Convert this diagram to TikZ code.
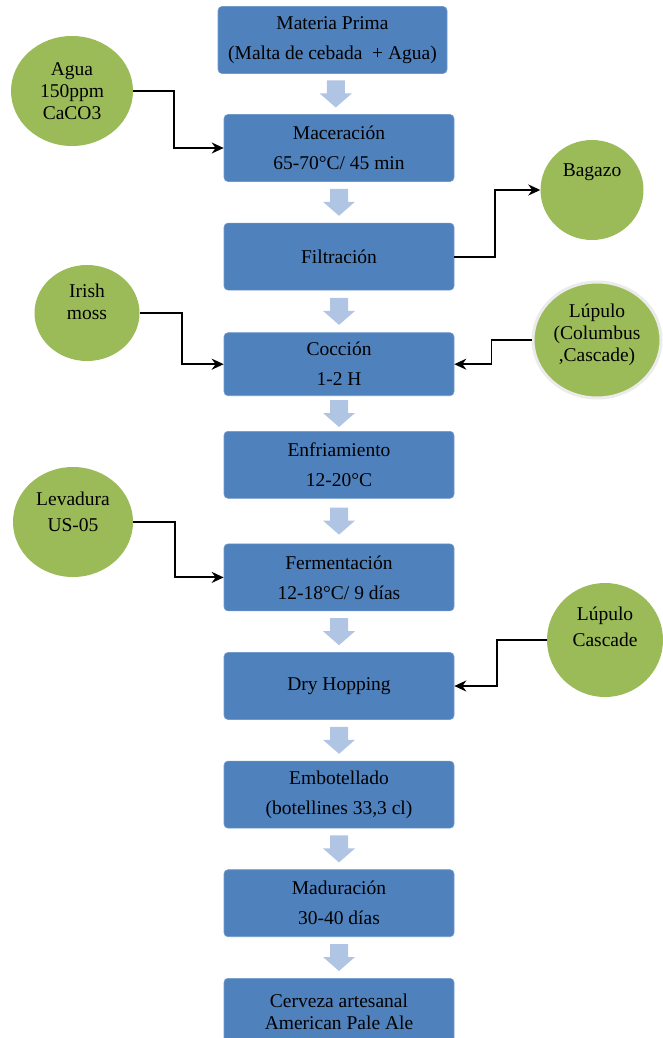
\documentclass[tikz,border=0pt]{standalone}
\usepackage{fontspec}
\setmainfont{Liberation Serif}
\usetikzlibrary{shapes.geometric, arrows.meta, positioning, calc}
\definecolor{boxblue}{RGB}{79,129,189}
\definecolor{leafgreen}{RGB}{155,187,89}
\definecolor{paleblue}{RGB}{176,196,228}

\begin{document}
\begin{tikzpicture}[
    x=1pt, y=-1pt,
    node distance=41pt,
    paso/.style={rectangle, rounded corners=4pt, fill=boxblue,
                 draw=boxblue!80!white, line width=0.6pt,
                 minimum width=230pt, minimum height=67pt, align=center,
                 inner sep=2pt, font=\fontsize{19.5}{30}\selectfont},
    insumo/.style={ellipse, fill=leafgreen, inner sep=0pt, align=center,
                   font=\fontsize{19.5}{22}\selectfont},
    arr/.style={-{Stealth[length=12pt, width=11pt]}, line width=1.9pt},
    bajada/.style={fill=paleblue}
]
\useasboundingbox (0,0) rectangle (663,1038);

%% ── Main column: process steps ──
\node[paso, minimum width=229pt] (MP) at (332.5,40) {Materia Prima\\(Malta de cebada \ + Agua)};
\node[paso] (MAC) at (339,148) {Maceración\\65-70°C/ 45 min};
\node[paso, below=of MAC] (FIL) {Filtración};
\node[paso, below=42pt of FIL, minimum height=63pt] (COC) {Cocción\\1-2 H};
\node[paso, below=35pt of COC] (ENF) {Enfriamiento\\12-20°C};
\node[paso, below=45pt of ENF] (FER) {Fermentación\\12-18°C/ 9 días};
\node[paso, below=of FER] (DRY) {Dry Hopping};
\node[paso, below=of DRY] (EMB) {Embotellado\\(botellines 33,3 cl)};
\node[paso, below=of EMB] (MAD) {Maduración\\30-40 días};
\node[paso, below=of MAD, font=\fontsize{19.5}{22}\selectfont] (CER) {Cerveza artesanal\\American Pale Ale};

%% ── Side inputs and outputs ──
\node[insumo, minimum width=122pt, minimum height=110pt] (AGUA) at (72,91) {Agua\\150ppm\\CaCO3};
\node[insumo, minimum width=103pt, minimum height=100pt, text depth=40pt] (BAG) at (592,190) {Bagazo};
\node[insumo, minimum width=105pt, minimum height=96pt, text depth=22pt] (IRI) at (87,313) {Irish\\moss};
\node[insumo, minimum width=128pt, minimum height=116pt, draw=black!8, line width=3pt,
      text depth=14pt] (LUP1) at (597,340) {Lúpulo\\(Columbus\\,Cascade)};
\node[insumo, minimum width=120pt, minimum height=110pt, text depth=20pt] (LEV) at (73,522) {Levadura\\[4pt]US-05};
\node[insumo, minimum width=116pt, minimum height=114pt, text depth=26pt] (LUP2) at (605,640) {Lúpulo\\[4pt]Cascade};

%% ── Block arrows between steps ──
\foreach \a/\b in {MP/MAC, MAC/FIL, FIL/COC, COC/ENF, ENF/FER, FER/DRY, DRY/EMB, EMB/MAD, MAD/CER}
  \fill[bajada] ($(\a.south)!0.5!(\b.north)$) ++(-9,-13.5) -- ++(18,0) -- ++(0,13)
        -- ++(7,0) -- ++(-16,14) -- ++(-16,-14) -- ++(7,0) -- cycle;

%% ── Elbow connectors ──
\draw[arr] (AGUA.east) -- ++(41,0) |- (MAC.west);
\draw[arr] (FIL.east) -- ++(41,0) |- (BAG.west);
\draw[arr] (IRI.east) -- ++(42,0) |- (COC.west);
\draw[arr] (LUP1.west) -- ++(-40,0) |- (COC.east);
\draw[arr] (LEV.east) -- ++(42,0) |- (FER.west);
\draw[arr] (LUP2.west) -- ++(-50,0) |- (DRY.east);

\end{tikzpicture}
\end{document}
